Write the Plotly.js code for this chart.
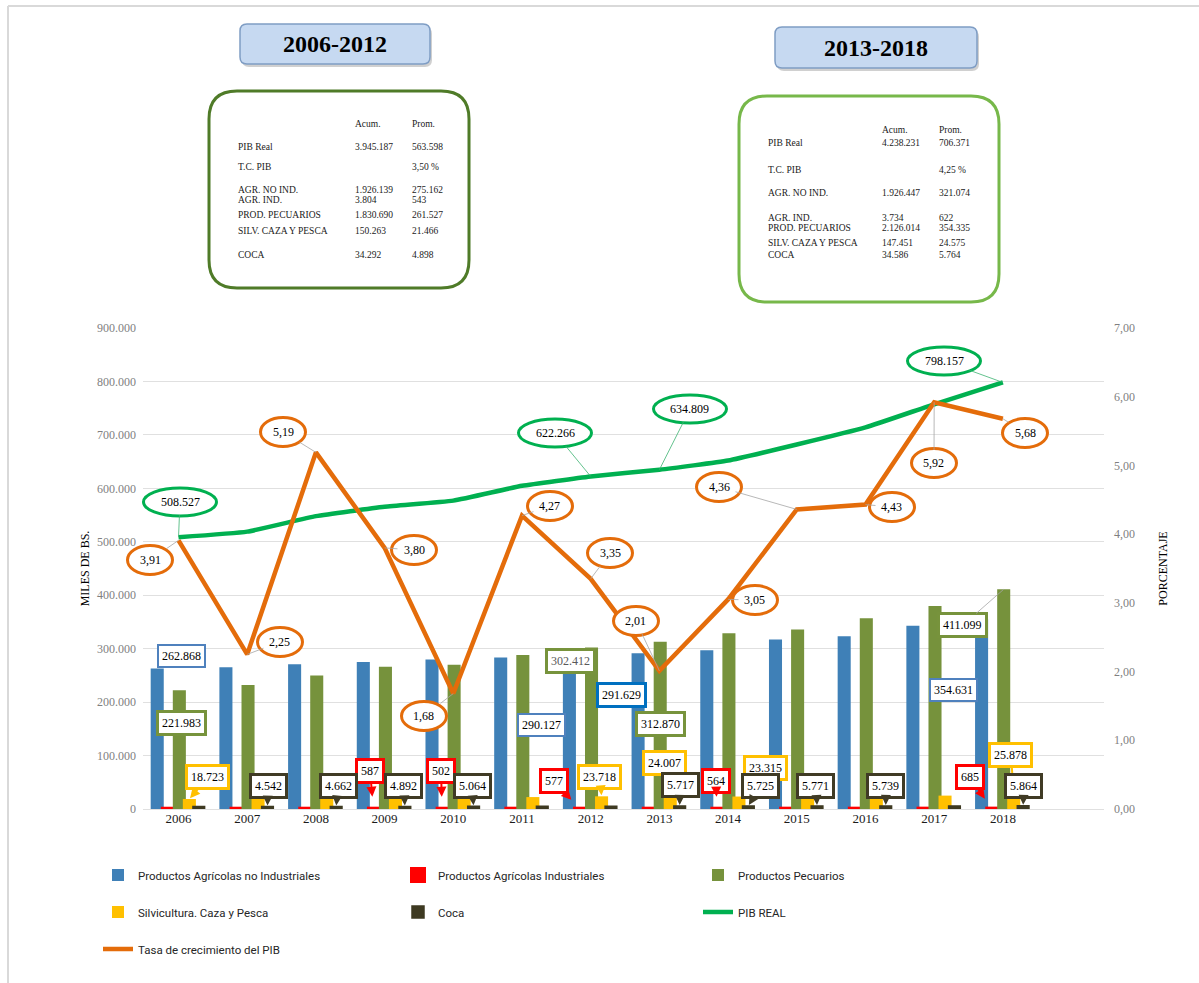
<!DOCTYPE html>
<html><head><meta charset="utf-8">
<script src="https://cdn.plot.ly/plotly-3.0.1.min.js"></script>
<style>html,body{margin:0;padding:0;background:#fff}#chart{width:1199px;height:983px}</style>
</head><body><div id="chart"></div>
<script>
// ---------------- DATA ----------------
const years = [2006,2007,2008,2009,2010,2011,2012,2013,2014,2015,2016,2017,2018];
const agrNoInd = [262868,265000,271000,275000,279500,283500,290127,291629,297000,317000,323000,343000,354631];
const agrInd = [510,530,545,587,502,553,577,600,564,610,625,650,685];
const pecuarios = [221983,232000,250000,266000,270000,288300,302412,312870,329000,336000,357000,380000,411099];
const silvicultura = [18723,20500,21200,21800,22000,22322,23718,24007,23315,24300,24900,25051,25878];
const coca = [4600,4542,4662,4892,5064,5200,5332,5717,5725,5771,5739,5770,5864];
const pibReal = [508527,519000,548000,565700,577000,604700,622266,634809,652000,682000,714000,757265,798157];
const tasaPib = [3.91,2.25,5.19,3.80,1.68,4.27,3.35,2.01,3.05,4.36,4.43,5.92,5.68];

const seriesNames = ['Productos Agrícolas no Industriales','Productos Agrícolas Industriales','Productos Pecuarios',
  'Silvicultura. Caza y Pesca','Coca','PIB REAL','Tasa de crecimiento del PIB'];

const periods = ['2006-2012','2013-2018'];
const tableRows = ['PIB Real','T.C. PIB','AGR. NO IND.','AGR. IND.','PROD. PECUARIOS','SILV. CAZA Y PESCA','COCA'];
const acum1 = ['3.945.187','','1.926.139','3.804','1.830.690','150.263','34.292'];
const prom1 = ['563.598','3,50 %','275.162','543','261.527','21.466','4.898'];
const acum2 = ['4.238.231','','1.926.447','3.734','2.126.014','147.451','34.586'];
const prom2 = ['706.371','4,25 %','321.074','622','354.335','24.575','5.764'];

// ---------------- LAYOUT GEOMETRY ----------------
const W=1199, H=983, L=143, R=1104, T=328, B=809;
const XR=[2005.483, 2019.472], YR=[0,900000], Y2R=[0,7];
const xpx = v => L + (v-XR[0])/(XR[1]-XR[0])*(R-L);
const ypx = v => B - (v-YR[0])/(YR[1]-YR[0])*(B-T);
const y2px = v => B - (v-Y2R[0])/(Y2R[1]-Y2R[0])*(B-T);
const PX = p => (p-L)/(R-L);
const PY = p => (B-p)/(B-T);

const BW = 0.19;
const off = {blue:-0.405, red:-0.258, green:-0.083, yellow:0.063, coca:0.2};

const C = {blue:'#3f80b7', red:'#ff0000', green:'#76923c', yellow:'#ffc000', coca:'#3e3a22',
  pib:'#00b050', tasa:'#e46c0a'};

const serif = 'Liberation Serif, Times New Roman, serif';
const sans = 'Liberation Sans Narrow, Roboto, sans-serif';

const fmtInt = v => Math.round(v).toString().replace(/\B(?=(\d{3})+(?!\d))/g,'.');
const fmtDec = v => v.toFixed(2).replace('.',',');

function barTrace(name, y, o, color, legend, lineW){
  return {type:'bar', name:name, x:years, y:y, offset:o, width:BW,
    marker:{color:color, line:{color:color, width:lineW||0}}, legend:legend, hoverinfo:'skip'};
}
const traces = [
  barTrace(seriesNames[0], agrNoInd, off.blue, C.blue, 'legend'),
  Object.assign(barTrace(seriesNames[1], agrInd, off.red+0.03, C.red, 'legend', 4), {width:BW-0.06}),
  barTrace(seriesNames[2], pecuarios, off.green, C.green, 'legend'),
  barTrace(seriesNames[3], silvicultura, off.yellow, C.yellow, 'legend2'),
  Object.assign(barTrace(seriesNames[4], coca, off.coca+0.01, C.coca, 'legend2', 1.5), {width:BW-0.02}),
  {type:'scatter', mode:'lines', name:seriesNames[5], x:years, y:pibReal, yaxis:'y',
   line:{color:C.pib, width:4.5, shape:'spline', smoothing:0.4}, legend:'legend2', hoverinfo:'skip'},
  {type:'scatter', mode:'lines', name:seriesNames[6], x:years, y:tasaPib, yaxis:'y2',
   line:{color:C.tasa, width:4.5}, legend:'legend3', hoverinfo:'skip'}
];

// ---------------- LABELS ----------------
const annotations = [];
const shapes = [];

function label(o){
  const px = xpx(o.x), py = (o.yref==='y2'?y2px:ypx)(o.y);
  annotations.push({x:o.x, y:o.y, xref:'x', yref:o.yref||'y', text:o.text,
    showarrow:true, axref:'pixel', ayref:'pixel', ax:o.cx-px, ay:o.cy-py,
    arrowhead:o.head||0, arrowsize:o.asize||1, arrowwidth:o.aw||0.8, arrowcolor:o.ac||'rgba(0,0,0,0)',
    standoff:o.standoff||0,
    bgcolor:o.bg||'rgba(0,0,0,0)', bordercolor:o.bc||'rgba(0,0,0,0)', borderwidth:o.bw||0, borderpad:o.pad==null?3:o.pad,
    font:{family:serif, size:12, color:o.fc||'#000'}});
}
function ellipse(cx,cy,w,h,color){
  shapes.push({type:'circle', xref:'paper', yref:'paper', x0:PX(cx-w/2), x1:PX(cx+w/2), y0:PY(cy+h/2), y1:PY(cy-h/2),
    line:{color:color, width:3}, fillcolor:'#ffffff', layer:'above'});
}
const idx = y => years.indexOf(y);

// blue box labels
[[2006,182,656,'#4f81bd',2],[2012,542,725,'#4f81bd',2],[2013,621,695,'#0070c0',3],[2018,954,690,'#4f81bd',2]].forEach(a=>{
  const i=idx(a[0]);
  label({x:a[0]+off.blue+BW/2, y:agrNoInd[i], cx:a[1], cy:a[2], text:fmtInt(agrNoInd[i]), bg:'#fff', bc:a[3], bw:a[4]});
});
// green box labels
[[2006,182,723],[2012,571,661],[2013,660,724],[2018,963,625]].forEach(a=>{
  const i=idx(a[0]);
  label({x:a[0]+off.green+BW/2, y:pecuarios[i], cx:a[1], cy:a[2], text:fmtInt(pecuarios[i]), bg:'#fff', bc:'#77933c', bw:3,
    ac: a[0]===2018?'#a6a6a6':undefined, fc: a[0]===2012?'#595959':'#000'});
});
// yellow callouts
[[2006,208,777,1],[2012,600,777,1],[2013,664,763,1],[2014,765,768,0],[2018,1011,755,1]].forEach(a=>{
  const i=idx(a[0]);
  label({x:a[0]+off.yellow+BW/2, y:silvicultura[i], cx:a[1], cy:a[2], text:fmtInt(silvicultura[i]), bg:'#fff', bc:C.yellow, bw:3,
    ac:a[3]?C.yellow:undefined, head:2, aw:2, asize:1, standoff:1});
});
// red callouts
[[2009,370,771],[2010,441,771],[2012,554,781],[2014,716,781],[2018,970,777]].forEach(a=>{
  const i=idx(a[0]);
  label({x:a[0]+off.red+BW/2, y:agrInd[i], cx:a[1], cy:a[2], text:fmtInt(agrInd[i]), bg:'#fff', bc:C.red, bw:3,
    ac:C.red, head:2, aw:2, asize:1, standoff:12});
});
// coca callouts
[[2007,268,786],[2008,338,786],[2009,404,786],[2010,472,786],[2013,680,785],[2014,760,786],[2015,816,786],[2016,886,786],[2018,1024,786]].forEach(a=>{
  const i=idx(a[0]);
  label({x:a[0]+off.coca+BW/2, y:coca[i], cx:a[1], cy:a[2], text:fmtInt(coca[i]), bg:'#fff', bc:'#403b25', bw:3,
    ac:'#403b25', head:2, aw:2, asize:1, standoff:1});
});
// orange oval labels (growth rate)
[[2006,150,560],[2007,280,642],[2008,283,432],[2009,414,550],[2010,424,716],[2011,550,506],[2012,610,553],
 [2013,636,621],[2014,755,600],[2015,719,487],[2016,892,507],[2017,934,463],[2018,1025,433]].forEach(a=>{
  const i=idx(a[0]);
  ellipse(a[1],a[2],45,29,C.tasa);
  label({x:a[0], y:tasaPib[i], yref:'y2', cx:a[1], cy:a[2], text:fmtDec(tasaPib[i]), ac:'#a6a6a6', aw:0.8, pad:6});
});
// green oval labels (PIB)
[[2006,180,502],[2012,555,433],[2013,690,409],[2018,944,361]].forEach(a=>{
  const i=idx(a[0]);
  ellipse(a[1],a[2],73,28,C.pib);
  label({x:a[0], y:pibReal[i], cx:a[1], cy:a[2], text:fmtInt(pibReal[i]), ac:'#3cb371', aw:0.8, pad:6});
});

// ---------------- DECORATIONS ----------------
function rrect(x0,y0,x1,y1,r){
  const X=PX, Y=PY;
  return `M${X(x0+r)},${Y(y0)} L${X(x1-r)},${Y(y0)} Q${X(x1)},${Y(y0)} ${X(x1)},${Y(y0+r)} `+
    `L${X(x1)},${Y(y1-r)} Q${X(x1)},${Y(y1)} ${X(x1-r)},${Y(y1)} L${X(x0+r)},${Y(y1)} `+
    `Q${X(x0)},${Y(y1)} ${X(x0)},${Y(y1-r)} L${X(x0)},${Y(y0+r)} Q${X(x0)},${Y(y0)} ${X(x0+r)},${Y(y0)} Z`;
}
// frame
shapes.push({type:'line', xref:'paper', yref:'paper', x0:PX(8), x1:PX(8), y0:PY(6), y1:PY(H), line:{color:'#d9d9d9', width:2}, layer:'below'});
shapes.push({type:'line', xref:'paper', yref:'paper', x0:PX(8), x1:PX(W), y0:PY(6), y1:PY(6), line:{color:'#d9d9d9', width:2}, layer:'below'});
// header boxes
const headers = [[240,24,430,64],[775,27,977,68]];
headers.forEach((h,k)=>{
  shapes.push({type:'path', xref:'paper', yref:'paper', path:rrect(h[0]+2,h[1]+3,h[2]+2,h[3]+3,7), fillcolor:'#d0d0d0', line:{width:0}, layer:'below'});
  shapes.push({type:'path', xref:'paper', yref:'paper', path:rrect(h[0],h[1],h[2],h[3],7), fillcolor:'#c6d9f1', line:{color:'#7f9dc4', width:1.5}, layer:'below'});
  annotations.push({xref:'paper', yref:'paper', x:PX((h[0]+h[2])/2), y:PY((h[1]+h[3])/2), text:'<b>'+periods[k]+'</b>',
    showarrow:false, xanchor:'center', yanchor:'middle', font:{family:serif, size:24, color:'#000'}});
});
// summary boxes
shapes.push({type:'path', xref:'paper', yref:'paper', path:rrect(209,91,469,288,28), fillcolor:'#fff', line:{color:'#4f7b28', width:3}, layer:'below'});
shapes.push({type:'path', xref:'paper', yref:'paper', path:rrect(739,96,999,302,28), fillcolor:'#fff', line:{color:'#77b84a', width:3}, layer:'below'});

function tableText(colX, headY, rowY, acum, prom){
  const f = {family:serif, size:9.5, color:'#1a1a1a'};
  const t = (x,y,s)=>annotations.push({xref:'paper', yref:'paper', x:PX(x), y:PY(y), text:s, showarrow:false,
    xanchor:'left', yanchor:'middle', font:f});
  t(colX[1], headY, 'Acum.'); t(colX[2], headY, 'Prom.');
  tableRows.forEach((r,i)=>{ t(colX[0], rowY[i], r); if(acum[i]) t(colX[1], rowY[i], acum[i]); t(colX[2], rowY[i], prom[i]); });
}
tableText([236,353,410], 124, [147,167,190,200,215,231,255], acum1, prom1);
tableText([766,880,937], 130, [143,170,193,218,228,243,255], acum2, prom2);

// ---------------- LAYOUT ----------------
const legendBase = {orientation:'h', x:PX(98), xanchor:'left', yanchor:'middle', entrywidth:255, entrywidthmode:'pixels',
  bgcolor:'rgba(0,0,0,0)', font:{family:sans, size:11.5, color:'#262626'}, traceorder:'normal', itemwidth:30};
const layout = {
  width:W, height:H, margin:{l:L, r:W-R, t:T, b:H-B, pad:0},
  paper_bgcolor:'#fff', plot_bgcolor:'#fff', separators:',.', barmode:'overlay', hovermode:false, showlegend:true,
  xaxis:{range:XR, tickvals:years, ticktext:years.map(String), showgrid:false, zeroline:false, showline:false, ticks:'',
    tickfont:{family:serif, size:13, color:'#1a1a1a'}, fixedrange:true},
  yaxis:{range:YR, dtick:100000, tickformat:',.0f', showgrid:true, gridcolor:'#e0e0e0', gridwidth:1, zeroline:true,
    zerolinecolor:'#e0e0e0', zerolinewidth:1, ticks:'', ticklabelstandoff:6, showline:false,
    tickfont:{family:serif, size:12, color:'#7f7f7f'}, fixedrange:true,
    title:{text:'MILES DE BS.', standoff:4, font:{family:serif, size:12, color:'#000'}}},
  yaxis2:{range:Y2R, dtick:1, tickformat:'.2f', overlaying:'y', side:'right', showgrid:false, zeroline:false, ticks:'',
    ticklabelstandoff:9, showline:false, tickfont:{family:serif, size:12, color:'#7f7f7f'}, fixedrange:true,
    title:{text:'PORCENTAJE', standoff:24, font:{family:serif, size:12, color:'#000'}}},
  legend:Object.assign({}, legendBase, {y:PY(875)}),
  legend2:Object.assign({}, legendBase, {y:PY(912)}),
  legend3:Object.assign({}, legendBase, {y:PY(949)}),
  annotations:annotations, shapes:shapes
};
Plotly.newPlot('chart', traces, layout, {displayModeBar:false, staticPlot:true});
</script></body></html>
